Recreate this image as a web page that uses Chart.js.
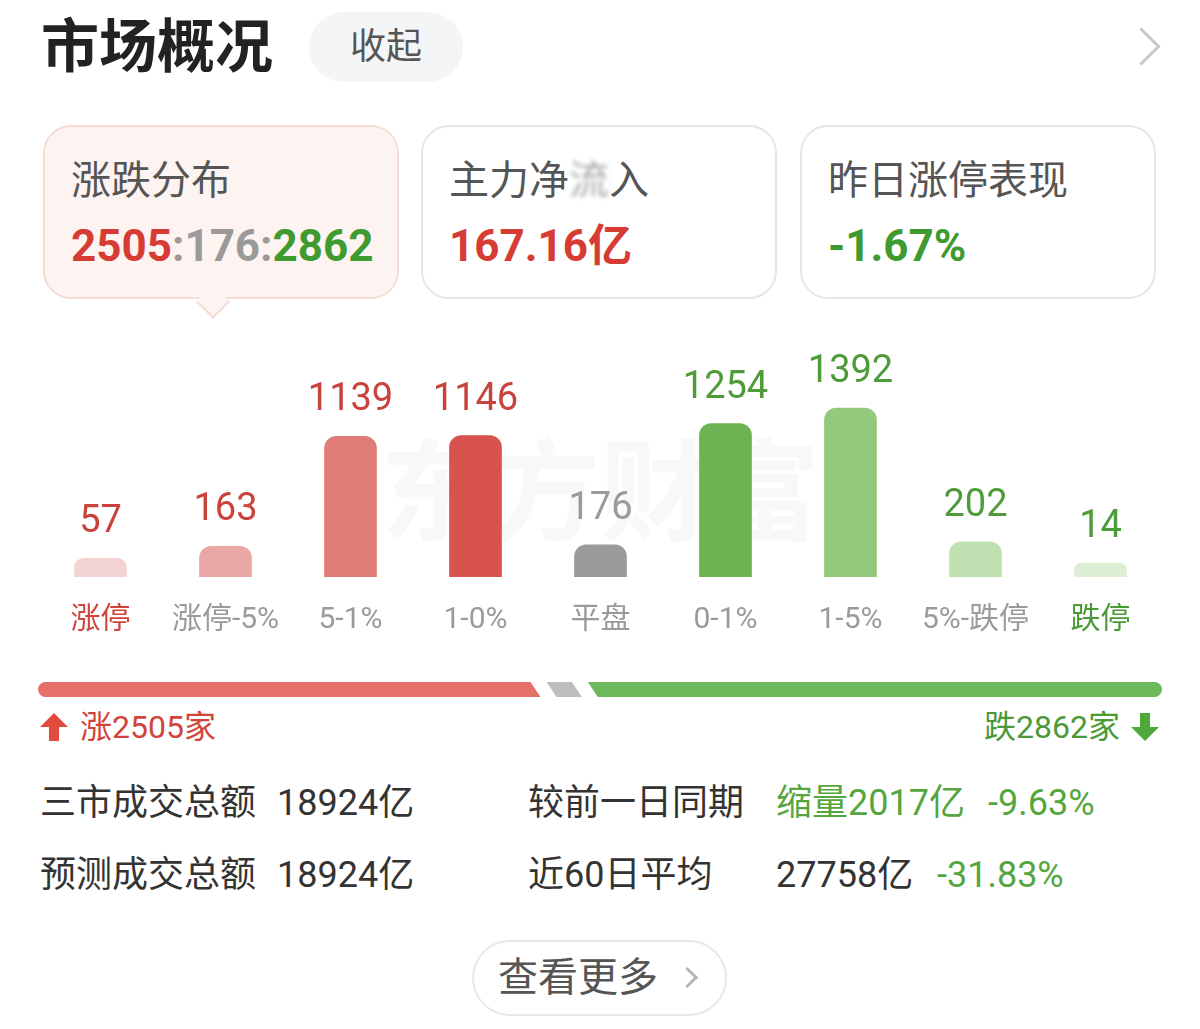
<!DOCTYPE html>
<html>
<head>
<meta charset="utf-8">
<script src="https://cdn.jsdelivr.net/npm/chart.js@4.4.0/dist/chart.umd.min.js"></script>
<style>
body { margin: 0; background: #fff; font-family: Roboto, "Noto Sans CJK SC", sans-serif; }
#page { position: relative; width: 1200px; height: 1029px; overflow: hidden; background: #fff; }
.abs { position: absolute; white-space: nowrap; line-height: 1; }
.card { position: absolute; top: 125px; width: 356px; height: 174px; border: 2px solid #e6e6e6; border-radius: 28px; box-sizing: border-box; background: #fff; }
.card .t { position: absolute; left: 26px; top: 34px; font-size: 40px; color: #555; line-height: 1; }
.card .v { position: absolute; left: 26px; top: 97px; font-size: 44px; font-weight: 700; line-height: 1; }
.red { color: #d63b34; }
.green { color: #3f9a30; }
.grey { color: #9a9a9a; }
.row { font-size: 36px; color: #333; }
#bar { position: absolute; left: 38px; top: 682px; width: 1124px; height: 15px; display: flex; gap: 6px; }
#bar div { flex-basis: 0; height: 100%; }
#chartBox { position: absolute; left: 38px; top: 330px; width: 1125px; height: 310px; }
</style>
</head>
<body>
<div id="page">
  <div class="abs" style="left:41px;top:18px;font-size:58px;font-weight:700;color:#222;">市场概况</div>
  <div class="abs" style="left:309px;top:12px;width:154px;height:70px;border-radius:35px;background:#f4f5f7;"></div>
  <div class="abs" style="left:309px;top:29px;width:154px;text-align:center;font-size:36px;color:#555;">收起</div>
  <div class="abs" style="left:1128px;top:33px;width:24px;height:24px;border-top:3px solid #c8c8c8;border-right:3px solid #c8c8c8;transform:rotate(45deg);"></div>

  <div class="card" style="left:43px;background:#fdf3f0;border-color:#f6ddd5;">
    <div class="t">涨跌分布</div>
    <div class="v" id="ratio"></div>
  </div>
  <div class="abs" style="left:201px;top:290px;width:22px;height:22px;background:#fdf3f0;border-right:2px solid #f6ddd5;border-bottom:2px solid #f6ddd5;transform:rotate(45deg);"></div>
  <div class="card" style="left:421px;">
    <div class="t">主力净<span style="filter:blur(2px);color:#aaa;">流</span>入</div>
    <div class="v red">167.16亿</div>
  </div>
  <div class="card" style="left:800px;">
    <div class="t">昨日涨停表现</div>
    <div class="v green">-1.67%</div>
  </div>

  <div class="abs" style="left:380px;top:440px;font-size:110px;font-weight:700;color:#f8f8f8;">东方财富</div>
  <div id="chartBox"><canvas id="myChart"></canvas></div>

  <div id="bar">
    <div id="barUp" style="background:#e5706a;border-radius:8px 0 0 8px;clip-path:polygon(0 0,calc(100% - 10px) 0,100% 100%,0 100%);"></div>
    <div id="barFlat" style="background:#bdbdbd;clip-path:polygon(0 0,calc(100% - 10px) 0,100% 100%,10px 100%);"></div>
    <div id="barDown" style="background:#6cb85a;border-radius:0 8px 8px 0;clip-path:polygon(0 0,100% 0,100% 100%,10px 100%);"></div>
  </div>

  <div class="abs" style="left:40px;top:713px;width:28px;height:28px;background:#e04a3f;clip-path:polygon(50% 0,100% 50%,68% 50%,68% 100%,32% 100%,32% 50%,0 50%);"></div>
  <div class="abs" id="upText" style="left:80px;top:711px;font-size:32px;color:#d0443c;"></div>
  <div class="abs" id="downText" style="right:80px;top:711px;font-size:32px;color:#4a9a35;"></div>
  <div class="abs" style="left:1131px;top:713px;width:28px;height:28px;background:#4fa83c;clip-path:polygon(32% 0,68% 0,68% 50%,100% 50%,50% 100%,0 50%,32% 50%);"></div>

  <div class="abs row" style="left:40px;top:785px;">三市成交总额</div>
  <div class="abs row" style="left:277px;top:785px;">18924亿</div>
  <div class="abs row" style="left:528px;top:785px;">较前一日同期</div>
  <div class="abs row" style="left:776px;top:785px;color:#55a63f;">缩量2017亿</div>
  <div class="abs row" style="left:988px;top:785px;color:#55a63f;">-9.63%</div>

  <div class="abs row" style="left:40px;top:857px;">预测成交总额</div>
  <div class="abs row" style="left:277px;top:857px;">18924亿</div>
  <div class="abs row" style="left:528px;top:857px;">近60日平均</div>
  <div class="abs row" style="left:776px;top:857px;">27758亿</div>
  <div class="abs row" style="left:937px;top:857px;color:#55a63f;">-31.83%</div>

  <div class="abs" style="left:472px;top:940px;width:255px;height:76px;border:2px solid #e8e8e8;border-radius:40px;box-sizing:border-box;"></div>
  <div class="abs" style="left:498px;top:958px;font-size:40px;color:#555;">查看更多</div>
  <div class="abs" style="left:680px;top:970px;width:12px;height:12px;border-top:3px solid #b5b5b5;border-right:3px solid #b5b5b5;transform:rotate(45deg);"></div>
</div>

<script>
// 涨跌分布
const categories = ['涨停', '涨停-5%', '5-1%', '1-0%', '平盘', '0-1%', '1-5%', '5%-跌停', '跌停'];
const counts = [57, 163, 1139, 1146, 176, 1254, 1392, 202, 14];
const upCount = 2505;
const flatCount = 176;
const downCount = 2862;

// colores
const barColors = ['#f4d3d3', '#e9a7a6', '#e07c78', '#d9534e', '#9b9b9b', '#6cb451', '#92c97c', '#bfe0b1', '#dcefd4'];
const valueColors = ['#c9423b', '#c9423b', '#c9423b', '#c9423b', '#9a9a9a', '#4d9c39', '#4d9c39', '#4d9c39', '#4d9c39'];
const labelColors = ['#d0443c', '#9a9a9a', '#9a9a9a', '#9a9a9a', '#9a9a9a', '#9a9a9a', '#9a9a9a', '#9a9a9a', '#4a9a35'];

document.getElementById('ratio').innerHTML =
    '<span class="red">' + upCount + '</span><span class="grey">:' + flatCount + ':</span><span class="green">' + downCount + '</span>';
document.getElementById('upText').textContent = '涨' + upCount + '家';
document.getElementById('downText').textContent = '跌' + downCount + '家';
document.getElementById('barUp').style.flexGrow = upCount;
document.getElementById('barFlat').style.flexGrow = flatCount;
document.getElementById('barDown').style.flexGrow = downCount;

// numeros encima de las barras
const valueLabels = {
    id: 'valueLabels',
    afterDatasetsDraw(chart) {
        const ctx = chart.ctx;
        const meta = chart.getDatasetMeta(0);
        ctx.save();
        ctx.font = '38px Roboto, "Noto Sans CJK SC"';
        ctx.textAlign = 'center';
        ctx.textBaseline = 'alphabetic';
        meta.data.forEach((bar, i) => {
            ctx.fillStyle = valueColors[i];
            ctx.fillText(counts[i], bar.x, bar.y - 26);
        });
        ctx.restore();
    }
};

var ctx = document.getElementById('myChart').getContext('2d');
var myChart = new Chart(ctx, {
    type: 'bar',
    data: {
        labels: categories,
        datasets: [{
            data: counts,
            backgroundColor: barColors,
            barThickness: 52,
            borderRadius: 12,
            base: -110
        }]
    },
    options: {
        responsive: true,
        maintainAspectRatio: false,
        animation: false,
        layout: { padding: 0 },
        plugins: {
            legend: { display: false },
            tooltip: { enabled: false }
        },
        scales: {
            x: {
                grid: { display: false },
                border: { display: false },
                ticks: {
                    padding: 17,
                    color: (c) => labelColors[c.index],
                    font: { size: 30, family: 'Roboto, "Noto Sans CJK SC"' }
                },
                afterFit: (scale) => { scale.height = 63; }
            },
            y: {
                display: false,
                min: -110,
                max: 2085
            }
        }
    },
    plugins: [valueLabels]
});
</script>
</body>
</html>
